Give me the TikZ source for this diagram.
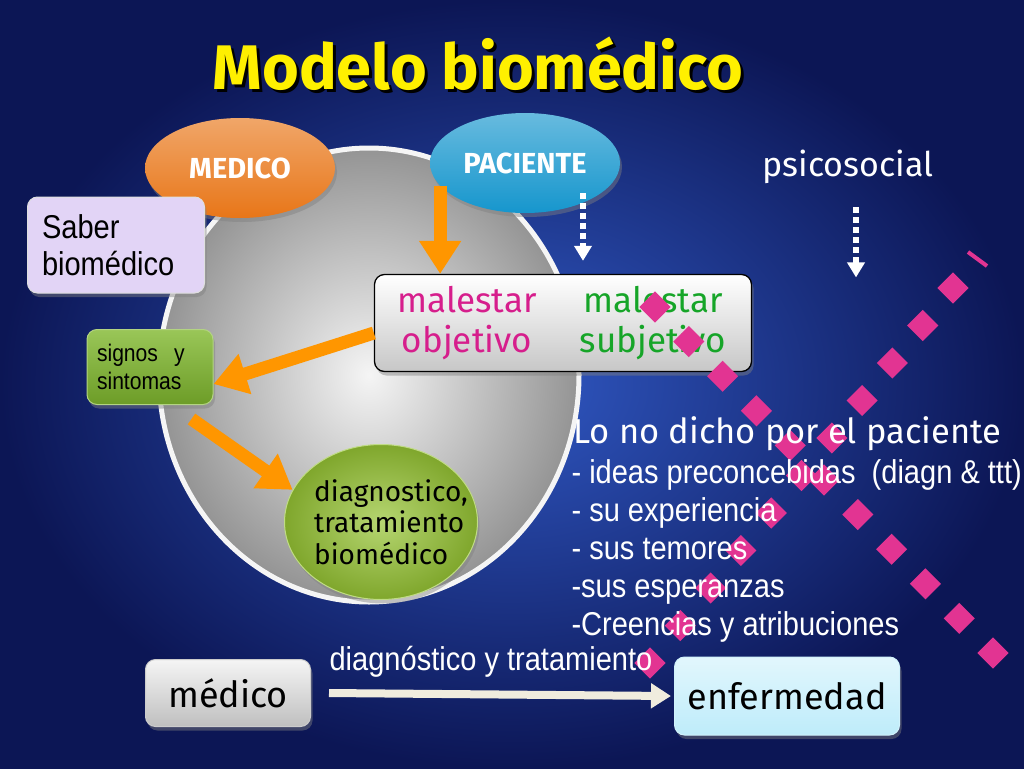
\documentclass[tikz,border=0pt]{standalone}
\usepackage{fontspec}
\setmainfont{Fira Sans}
\newfontfamily\narrowfont[FakeStretch=0.88]{Liberation Sans}
\usetikzlibrary{positioning}
\usetikzlibrary{arrows.meta,shapes}
\usetikzlibrary{shadows}
\usetikzlibrary{calc}
\definecolor{bgin}{RGB}{48,88,195}
\definecolor{bgout}{RGB}{12,22,85}
\definecolor{titleyellow}{RGB}{255,240,0}
\definecolor{medorange}{RGB}{232,118,24}
\definecolor{paccyan}{RGB}{22,150,205}
\definecolor{arrorange}{RGB}{255,150,0}
\definecolor{gempink}{RGB}{226,52,146}
\definecolor{magtext}{RGB}{214,30,140}
\definecolor{greentext}{RGB}{22,165,40}
\definecolor{saberfill}{RGB}{226,212,246}
\definecolor{signosgreen}{RGB}{128,184,46}
\definecolor{ballgreen}{RGB}{150,196,52}
\definecolor{enffill}{RGB}{190,236,250}
\definecolor{cream}{RGB}{240,236,222}
\newcommand{\shadowed}[1]{\rlap{\kern3pt\raisebox{-3pt}{\color{black}#1}}#1}
\tikzstyle{titletext}=[text=titleyellow,font=\bfseries\fontsize{63}{70}\selectfont,anchor=base]
\tikzstyle{bubble}=[ellipse,minimum width=190pt,minimum height=100pt,text=white,font=\bfseries\fontsize{29}{32}\selectfont,drop shadow={opacity=0.45,shadow xshift=2pt,shadow yshift=-4pt}]
\tikzstyle{box}=[rectangle,rounded corners=10pt,draw=white!75!gray,line width=1pt,drop shadow={opacity=0.45,shadow xshift=2pt,shadow yshift=-4pt}]
\tikzstyle{narrowtext}=[font=\narrowfont\fontsize{33}{37}\selectfont]
\tikzstyle{fatarrow}=[draw=arrorange,line width=13pt,-{Triangle[width=40pt,length=33pt]}]
\tikzstyle{dotarrow}=[draw=white,line width=6pt,dash pattern=on 6pt off 4pt,-{Triangle[width=17pt,length=15pt]}]
\tikzstyle{gem}=[rectangle,fill=gempink,minimum size=22pt,inner sep=0pt,rotate=45]
\tikzstyle{listline}=[text=white,narrowtext,anchor=base west]

\begin{document}
\begin{tikzpicture}[x=1pt,y=-1pt]
    % the slide background
    \useasboundingbox (0,0) rectangle (1024,768);
    \shade[inner color=bgin, outer color=bgout] (0,0) rectangle (1024,768);

    % title with its shadow
    \node[titletext] (title) at (478,89) {\shadowed{Modelo biomédico}};

    % the big grey egg behind the model
    \node[ellipse,minimum width=420pt,minimum height=454pt,draw=white!92!gray,line width=5pt,
          inner color=white!92!gray,outer color=black!42] (egg) at (369,375) {};

    % doctor and patient ovals
    \foreach \pos/\name/\label/\col in {{(240,168)/med/MEDICO/medorange}, {(525,163)/pac/PACIENTE/paccyan}}
            \node[bubble,top color=\col!65!white,bottom color=\col] (\name) at \pos {\label};

    % boxes of the model
    \node[box,fill=saberfill,minimum width=177pt,minimum height=96pt,text width=148pt,inner xsep=14pt,
          align=left,narrowtext] (saber) at (116,245) {Saber\\biomédico};
    \node[box,draw=signosgreen!60!white,top color=signosgreen!80!white,bottom color=signosgreen!85!black,
          minimum width=126pt,minimum height=75pt,text width=106pt,inner xsep=10pt,align=left,
          font=\narrowfont\fontsize{24}{28}\selectfont] (sig) at (150,367) {signos~~y\\sintomas};
    \node[box,draw=black,line width=1.3pt,top color=white,bottom color=black!22,
          minimum width=377pt,minimum height=97pt] (mal) at (563,323) {};
    \node[text=magtext,align=center,font=\fontsize{35}{40}\selectfont] (obj) at ([xshift=-96pt]mal.center) {malestar\\objetivo};
    \node[text=greentext,align=center,font=\fontsize{35}{40}\selectfont] (subj) at ([xshift=90pt]mal.center) {malestar\\subjetivo};

    % the green ball
    \node[ellipse,minimum width=193pt,minimum height=155pt,draw=ballgreen!60!white,line width=1pt,
          inner color=ballgreen!70!white,outer color=ballgreen!85!black,
          drop shadow={opacity=0.45,shadow xshift=2pt,shadow yshift=-4pt}] (diag) at (381,522) {};
    \node[align=left,font=\fontsize{28}{31.5}\selectfont] (diagtext) at ([xshift=10pt]diag.center) {diagnostico,\\tratamiento\\biomédico};

    % orange arrows
    \draw[fatarrow] (pac.195) -- (pac.195 |- mal.north);
    \draw[fatarrow] ([yshift=-10pt]mal.west) -- (sig.-15);
    \draw[fatarrow] ([xshift=-22pt,yshift=-14pt]sig.south east) -- (diag.160);

    % dotted arrows
    \node[text=white,font=\fontsize{34}{38}\selectfont] (psi) at (848,167) {psicosocial};
    \coordinate (pacdots) at (583,193);
    \draw[dotarrow,shorten >=13pt] (pacdots) -- (pacdots |- mal.north);
    \draw[dotarrow] ([xshift=8pt,yshift=-20pt]psi.south) -- ++(0,70);

    % bottom boxes
    \node[box,draw=white!60!gray,top color=white!96!black,bottom color=black!25,minimum width=165pt,
          minimum height=67pt,font=\fontsize{36}{40}\selectfont] (doc) at (228,693) {médico};
    \node[box,draw=enffill!70!white,top color=enffill!45!white,bottom color=enffill,minimum width=225pt,
          minimum height=78pt,font=\fontsize{36}{40}\selectfont] (enf) at (787,696) {enfermedad};

    % two rows of pink diamonds
    \draw[gempink,line width=4pt] (968,252) -- (987,266);
    \foreach \i in {0,...,10}
            \node[gem] (up\i) at ($(953,288)+\i*(-30.3,37.5)$) {};
    \foreach \i in {0,...,10}
            \node[gem] (down\i) at ($(655,307)+\i*(33.8,34.6)$) {};

    % what the patient does not say
    \node[text=white,anchor=base west,font=\fontsize{34.5}{40}\selectfont] (nodicho) at (570,443) {Lo no dicho por el paciente};
    \foreach \y/\name/\label in {483/ideas/{- ideas preconcebidas~~(diagn \& ttt)}, 521/exp/{- su experiencia},
                                 559/tem/{- sus temores}, 597/esp/{-sus esperanzas}, 635/cre/{-Creencias y atribuciones}}
            \node[listline] (\name) at (568,\y) {\label};

    % treatment arrow
    \draw[draw=cream,line width=8pt,-{Triangle[width=24pt,length=20pt]}] ([xshift=18pt]doc.east) -- ([xshift=-3pt]enf.west)
            node[midway,above=10pt,xshift=-9pt,text=white,narrowtext] (dxtx) {diagnóstico y tratamiento};
\end{tikzpicture}
\end{document}
